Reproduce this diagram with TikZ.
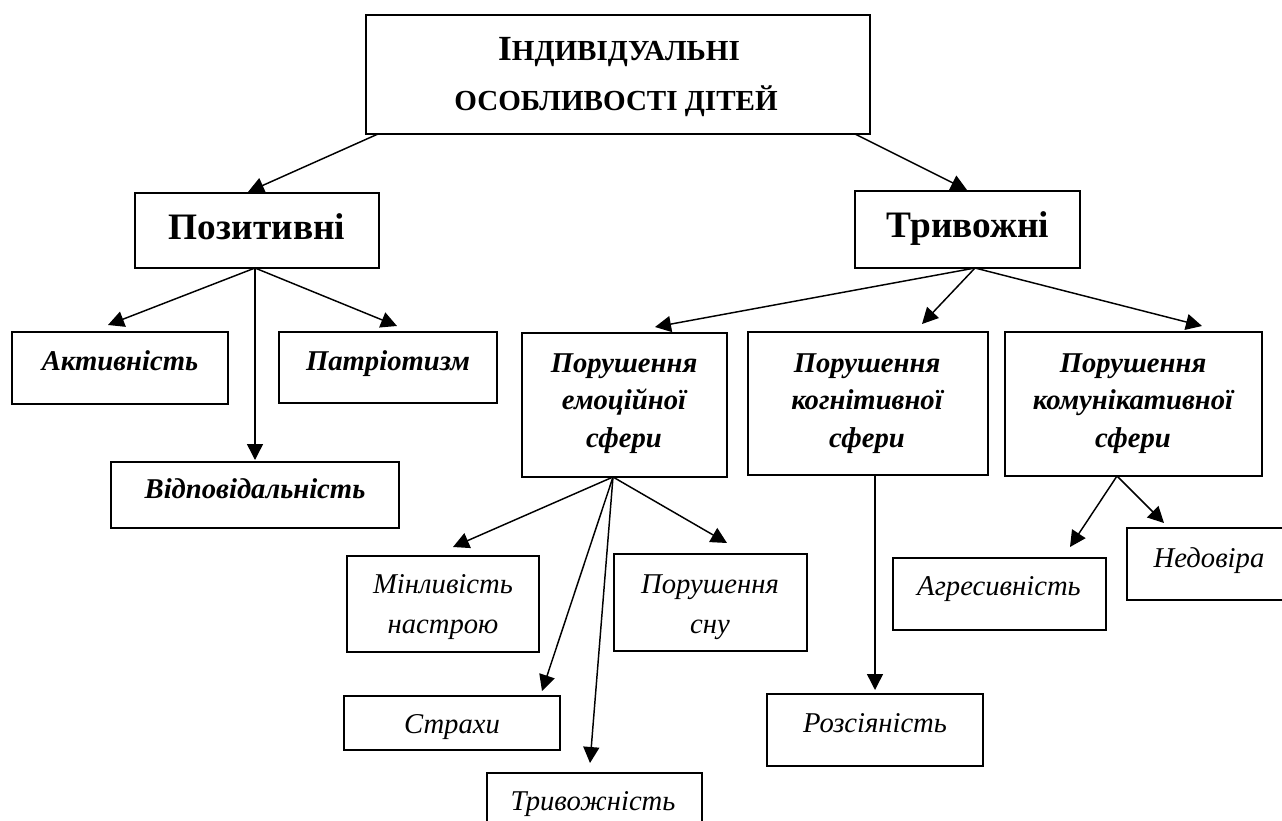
\documentclass[tikz,border=0pt]{standalone}
\usepackage{fontspec}
\setmainfont{Liberation Serif}
\usetikzlibrary{arrows.meta}
\newcommand\bx[5]{\node[box, minimum width={(#4-#2)*0.75pt}, minimum height={(#5-#3)*0.75pt}] (#1) at ({(#2+#4)/2},{(#3+#5)/2}) {};}
\tikzset{
  box/.style={draw, line width=1.4pt, rectangle, inner sep=0pt, outer sep=0pt},
  arr/.style={-{Triangle[length=12pt,width=12pt]}, line width=1.1pt},
  lbl/.style={anchor=base, inner sep=0pt, align=center},
  top/.style={font=\bfseries\fontsize{21.8}{37.5}\selectfont},
  lvl/.style={font=\bfseries\fontsize{28}{34}\selectfont},
  bi/.style={font=\bfseries\itshape\fontsize{21.5}{28}\selectfont},
  it/.style={font=\itshape\fontsize{21.5}{29.5}\selectfont}
}
\begin{document}
\begin{tikzpicture}[x=0.75pt,y=-0.75pt]
\useasboundingbox (0,0) rectangle (1282,821);
% boxes
\bx{root}{366}{15}{870}{134}
\bx{poz}{135}{193}{379}{268}
\bx{tryv}{855}{191}{1080}{268}
\bx{akt}{12}{332}{228}{404}
\bx{patr}{279}{332}{497}{403}
\bx{vidp}{111}{462}{399}{528}
\bx{emo}{522}{333}{727}{477}
\bx{kogn}{748}{332}{988}{475}
\bx{komun}{1005}{332}{1262}{476}
\bx{minl}{347}{556}{539}{652}
\bx{son}{614}{554}{807}{651}
\bx{strakh}{344}{696}{560}{750}
\bx{trv}{487}{773}{702}{840}
\bx{rozs}{767}{694}{983}{766}
\bx{agr}{893}{558}{1106}{630}
\bx{nedov}{1127}{528}{1291}{600}
% texts
\node[lbl, top] (t-root1) at (619,60) {{\fontsize{26.5}{37.5}\selectfont І}НДИВІДУАЛЬНІ};
\node[lbl, top] (t-root2) at (616,110) {ОСОБЛИВОСТІ ДІТЕЙ};
\node[lbl, lvl] (t-poz) at (257,239) {Позитивні};
\node[lbl, lvl] (t-tryv) at (968,237) {Тривожні};
\node[lbl, bi] (t-akt) at (120,370) {Активність};
\node[lbl, bi] (t-patr) at (388,370) {Патріотизм};
\node[lbl, bi] (t-vidp) at (255,498) {Відповідальність};
\node[lbl, bi] (t-emo) at (624,447) {Порушення\\емоційної\\сфери};
\node[lbl, bi] (t-kogn) at (867,447) {Порушення\\когнітивної\\сфери};
\node[lbl, bi] (t-komun) at (1133,447) {Порушення\\комунікативної\\сфери};
\node[lbl, it] (t-minl) at (443,633) {Мінливість\\настрою};
\node[lbl, it] (t-son) at (710,633) {Порушення\\сну};
\node[lbl, it] (t-strakh) at (452,733) {Страхи};
\node[lbl, it] (t-trv) at (593,810) {Тривожність};
\node[lbl, it] (t-rozs) at (875,732) {Розсіяність};
\node[lbl, it] (t-agr) at (999,595) {Агресивність};
\node[lbl, it] (t-nedov) at (1209,567) {Недовіра};
% connector ends
\coordinate (root-l) at (378,134);
\coordinate (root-r) at (855,134);
\coordinate (poz-in) at (248,192);
\coordinate (tryv-in) at (967,190);
\coordinate (poz-out) at (255,268);
\coordinate (akt-in) at (108,325);
\coordinate (vidp-in) at (255,460);
\coordinate (patr-in) at (397,326);
\coordinate (tryv-out) at (975,268);
\coordinate (emo-in) at (655,327);
\coordinate (kogn-in) at (922,324);
\coordinate (komun-in) at (1202,326);
\coordinate (emo-out) at (613,477);
\coordinate (minl-in) at (453,547);
\coordinate (son-in) at (727,543);
\coordinate (strakh-in) at (542,691);
\coordinate (trv-in) at (590,763);
\coordinate (kogn-out) at (875,475);
\coordinate (rozs-in) at (875,690);
\coordinate (komun-out) at (1117,476);
\coordinate (agr-in) at (1070,547);
\coordinate (nedov-in) at (1164,523);
% connectors
\draw[arr] (root-l) -- (poz-in);
\draw[arr] (root-r) -- (tryv-in);
\draw[arr] (poz-out) -- (akt-in);
\draw[arr] (poz-out) -- (vidp-in);
\draw[arr] (poz-out) -- (patr-in);
\draw[arr] (tryv-out) -- (emo-in);
\draw[arr] (tryv-out) -- (kogn-in);
\draw[arr] (tryv-out) -- (komun-in);
\draw[arr] (emo-out) -- (minl-in);
\draw[arr] (emo-out) -- (son-in);
\draw[arr] (emo-out) -- (strakh-in);
\draw[arr] (emo-out) -- (trv-in);
\draw[arr] (kogn-out) -- (rozs-in);
\draw[arr] (komun-out) -- (agr-in);
\draw[arr] (komun-out) -- (nedov-in);
\end{tikzpicture}
\end{document}
